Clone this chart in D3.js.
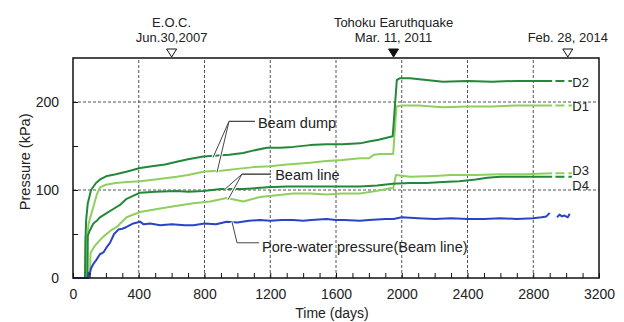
<!DOCTYPE html>
<html>
<head>
<meta charset="utf-8">
<script src="https://cdn.jsdelivr.net/npm/d3@7"></script>
<style>
  body { margin: 0; background: #fff; }
  text { font-family: "Liberation Sans", Arial, sans-serif; fill: #222; }
</style>
</head>
<body>
<div id="chart"></div>
<script>
// ---- data (days / kPa) ----
const d2Days = [73, 75, 80, 90, 110, 140, 165, 207, 260, 330, 408, 480, 560, 631, 700, 793, 860, 950, 1035, 1100, 1180, 1260, 1340, 1442, 1540, 1640, 1746, 1800, 1860, 1945, 1970, 1990, 2050, 2150, 2250, 2400, 2550, 2700, 2800, 2915]
const d2Vals = [0, 40, 66, 85, 100, 108, 112, 116, 118, 121, 125, 127, 129, 132, 135, 138, 139, 140, 142, 145, 148, 148, 149, 151, 152, 152, 153, 155, 157, 161, 225, 227, 227, 225, 223, 224, 223, 224, 224, 224]

const d1Days = [84, 86, 95, 110, 124, 145, 164, 200, 260, 330, 408, 500, 631, 700, 800, 900, 1000, 1100, 1200, 1300, 1442, 1540, 1640, 1746, 1800, 1830, 1870, 1948, 1968, 2000, 2100, 2250, 2400, 2550, 2700, 2915]
const d1Vals = [0, 45, 62, 72, 81, 95, 103, 106, 108, 109, 110, 112, 115, 117, 121, 122, 124, 126, 127, 129, 131, 133, 134, 136, 136, 140, 141, 141, 195, 196, 196, 194, 195, 195, 196, 196]

const d3Days = [104, 106, 130, 164, 185, 230, 266, 326, 408, 530, 633, 733, 834, 935, 1037, 1136, 1240, 1340, 1442, 1542, 1640, 1746, 1850, 1929, 1948, 1965, 2050, 2200, 2300, 2450, 2600, 2750, 2915]
const d3Vals = [0, 28, 36, 43, 47, 54, 58, 69, 75, 79, 82, 85, 87, 91, 87, 92, 94, 96, 96, 95, 96, 96, 99, 102, 102, 117, 115, 116, 117, 117, 118, 118, 119]

const d4Days = [88, 90, 100, 124, 150, 164, 207, 250, 286, 326, 408, 500, 631, 700, 793, 900, 1035, 1180, 1300, 1442, 1600, 1746, 1850, 1945, 2050, 2150, 2250, 2350, 2450, 2520, 2600, 2700, 2800, 2915]
const d4Vals = [0, 48, 53, 62, 66, 69, 74, 79, 83, 90, 97, 98, 99, 98, 99, 101, 101, 103, 104, 104, 104, 104, 105, 107, 108, 108, 109, 110, 112, 114, 115, 115, 115, 115]

const poreDays = [0, 90, 95, 100, 110, 124, 140, 164, 185, 205, 225, 250, 276, 300, 326, 367, 408, 430, 470, 530, 600, 680, 733, 800, 870, 935, 1000, 1070, 1136, 1200, 1270, 1340, 1400, 1450, 1542, 1600, 1650, 1746, 1800, 1900, 1950, 2000, 2100, 2200, 2300, 2400, 2500, 2600, 2700, 2800, 2850, 2880, 2900]
const poreVals = [0, 0, 6, 4, 11, 16, 20, 27, 29, 35, 40, 50, 55, 56, 58, 62, 64, 61, 62, 60, 61, 60, 60, 62, 61, 64, 63, 65, 66, 65, 66, 66, 65, 66, 67, 66, 66, 65, 66, 67, 67, 69, 68, 67, 68, 67, 67, 68, 67, 68, 69, 70, 74]
const poreTailDays = [2945, 2960, 2975, 2990, 3010, 3022]
const poreTailVals = [69, 72, 70, 71, 69, 73]

const xTickVals = [0, 400, 800, 1200, 1600, 2000, 2400, 2800, 3200]
const yTickVals = [0, 100, 200]

const events = [
  { day: 600, lines: ['E.O.C.', 'Jun.30,2007'], filled: false },
  { day: 1950, lines: ['Tohoku Earuthquake', 'Mar. 11, 2011'], filled: true },
  { day: 3010, lines: ['Feb. 28, 2014'], filled: false }
]

const COLORS = {
  dark: '#23883a',
  light: '#8fcf5e',
  blue: '#2a44c6',
  grid: '#555',
  leader: '#444'
}

const FONT = '"Liberation Sans", Arial, sans-serif'

const width = 624
const height = 322
const margin = { top: 58, right: 25, bottom: 44, left: 73 }

const svg = d3.select('#chart').append('svg')
  .attr('width', width)
  .attr('height', height)

const x = d3.scaleLinear().domain([0, 3200]).range([margin.left, width - margin.right])
const y = d3.scaleLinear().domain([0, 250]).range([height - margin.bottom, margin.top])

// grid
svg.append('g')
  .selectAll('line')
  .data(xTickVals.slice(1, -1))
  .join('line')
  .attr('x1', d => x(d)).attr('x2', d => x(d))
  .attr('y1', y(0)).attr('y2', y(250))
  .attr('stroke', COLORS.grid).attr('stroke-width', 1).attr('stroke-dasharray', '3,2')
svg.append('g')
  .selectAll('line')
  .data([100, 200])
  .join('line')
  .attr('x1', x(0)).attr('x2', x(3200))
  .attr('y1', d => y(d)).attr('y2', d => y(d))
  .attr('stroke', COLORS.grid).attr('stroke-width', 1).attr('stroke-dasharray', '3,2')

// series
const line = d3.line().x(d => x(d[0])).y(d => y(d[1]))
const zip = (a, b) => a.map((v, i) => [v, b[i]])

const series = [
  { days: d3Days, vals: d3Vals, color: COLORS.light },
  { days: d1Days, vals: d1Vals, color: COLORS.light },
  { days: d4Days, vals: d4Vals, color: COLORS.dark },
  { days: d2Days, vals: d2Vals, color: COLORS.dark },
  { days: poreDays, vals: poreVals, color: COLORS.blue },
  { days: poreTailDays, vals: poreTailVals, color: COLORS.blue }
]
svg.append('g')
  .selectAll('path')
  .data(series)
  .join('path')
  .attr('d', s => line(zip(s.days, s.vals)))
  .attr('fill', 'none')
  .attr('stroke', s => s.color)
  .attr('stroke-width', 2)
  .attr('stroke-linejoin', 'round')

// dashed extensions + labels on the right
const endLabels = [
  { name: 'D2', val: 224, labelVal: 222, color: COLORS.dark },
  { name: 'D1', val: 196, labelVal: 195, color: COLORS.light },
  { name: 'D3', val: 119, labelVal: 122, color: COLORS.light },
  { name: 'D4', val: 115, labelVal: 105, color: COLORS.dark }
]
svg.append('g')
  .selectAll('line')
  .data(endLabels)
  .join('line')
  .attr('x1', x(2935)).attr('x2', x(3035))
  .attr('y1', d => y(d.val)).attr('y2', d => y(d.val))
  .attr('stroke', d => d.color).attr('stroke-width', 2)
  .attr('stroke-dasharray', '9,4')
svg.append('g')
  .selectAll('text')
  .data(endLabels)
  .join('text')
  .attr('x', x(3038))
  .attr('y', d => y(d.labelVal) + 4.5)
  .attr('font-size', 13)
  .text(d => d.name)

// frame
svg.append('rect')
  .attr('x', x(0)).attr('y', y(250))
  .attr('width', x(3200) - x(0)).attr('height', y(0) - y(250))
  .attr('fill', 'none').attr('stroke', '#111').attr('stroke-width', 1.5)

// x axis
svg.append('g')
  .attr('transform', `translate(0,${y(0)})`)
  .call(d3.axisBottom(x).tickValues(d3.range(0, 3201, 100)).tickSize(-5).tickFormat(''))
  .call(g => g.select('.domain').remove())
  .call(g => g.selectAll('line').attr('stroke', '#111'))
svg.append('g')
  .attr('transform', `translate(0,${y(0)})`)
  .call(d3.axisBottom(x).tickValues(xTickVals).tickSize(0).tickPadding(11).tickFormat(d3.format('d')))
  .call(g => g.select('.domain').remove())
  .call(g => g.selectAll('text').attr('font-size', 14).attr('fill', '#222').style('font-family', FONT))

// y axis
svg.append('g')
  .attr('transform', `translate(${x(0)},0)`)
  .call(d3.axisLeft(y).tickValues([50, 100, 150, 200]).tickSize(-5).tickFormat(''))
  .call(g => g.select('.domain').remove())
  .call(g => g.selectAll('line').attr('stroke', '#111'))
svg.append('g')
  .attr('transform', `translate(${x(0)},0)`)
  .call(d3.axisLeft(y).tickValues(yTickVals).tickSize(0).tickPadding(14).tickFormat(d3.format('d')))
  .call(g => g.select('.domain').remove())
  .call(g => g.selectAll('text').attr('font-size', 14).attr('fill', '#222').style('font-family', FONT))

// axis titles
svg.append('text')
  .attr('x', (x(0) + x(3200)) / 2 - 4)
  .attr('y', height - 4)
  .attr('text-anchor', 'middle')
  .attr('font-size', 14)
  .text('Time (days)')
svg.append('text')
  .attr('transform', `translate(30,${y(132)}) rotate(-90)`)
  .attr('text-anchor', 'middle')
  .attr('font-size', 14.5)
  .text('Pressure (kPa)')

// event markers above the plot
const tri = svg.append('g')
events.forEach(ev => {
  const cx = x(ev.day)
  tri.append('path')
    .attr('d', `M${cx - 5},49 L${cx + 5},49 L${cx},57 Z`)
    .attr('fill', ev.filled ? '#111' : '#fff')
    .attr('stroke', '#111').attr('stroke-width', 1)
  ev.lines.forEach((t, i) => {
    tri.append('text')
      .attr('x', cx)
      .attr('y', 42 - (ev.lines.length - 1 - i) * 15)
      .attr('text-anchor', 'middle')
      .attr('font-size', 13)
      .text(t)
  })
})

// leader annotations (data coords)
const notes = [
  { text: 'Beam dump', tx: 1125, ty: 171, start: [1107, 178], elbow: [949, 178], ends: [[852, 137], [876, 120]] },
  { text: 'Beam line', tx: 1230, ty: 111, start: [1205, 118], elbow: [1028, 118], ends: [[925, 101], [943, 89]] },
  { text: 'Pore-water pressure(Beam line)', tx: 1150, ty: 30, start: [1132, 40], elbow: [998, 40], ends: [[967, 64]] }
]
const ann = svg.append('g')
const leaderPath = (n, e) => d3.line()([[x(n.start[0]), y(n.start[1])], [x(n.elbow[0]), y(n.elbow[1])], [x(e[0]), y(e[1])]])
notes.forEach(n => {
  n.ends.forEach(e => {
    ann.append('path').attr('d', leaderPath(n, e))
      .attr('fill', 'none').attr('stroke', '#fff').attr('stroke-width', 3)
  })
  n.ends.forEach(e => {
    ann.append('path').attr('d', leaderPath(n, e))
      .attr('fill', 'none').attr('stroke', COLORS.leader).attr('stroke-width', 1)
  })
  ann.append('text')
    .attr('x', x(n.tx)).attr('y', y(n.ty))
    .attr('font-size', 14.5)
    .text(n.text)
})
</script>
</body>
</html>
